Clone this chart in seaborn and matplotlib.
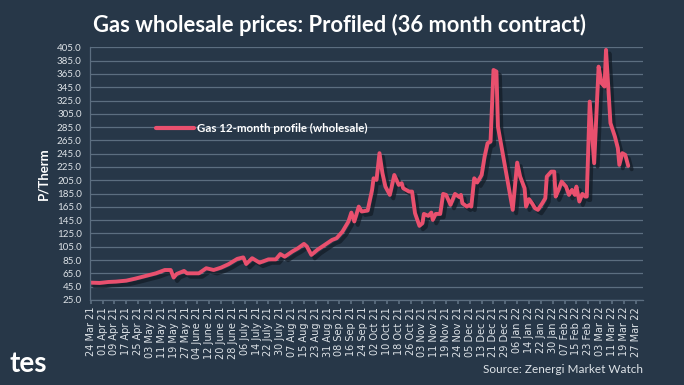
import pandas as pd
import matplotlib
matplotlib.use("Agg")
import matplotlib.pyplot as plt
import matplotlib.patheffects as pe
import seaborn as sns

# days since 24 Mar 2021
days = [0, 6, 12, 17, 24, 30, 37, 44, 50, 54, 56, 58, 63, 65, 73, 78, 83, 88,
        93, 99, 103, 105, 109, 114, 120, 125, 128, 131, 136, 140, 144, 146,
        149, 153, 157, 163, 166, 170, 174, 176, 178, 181, 183, 187, 190, 191,
        193, 195, 197, 199, 202, 205, 208, 210, 211, 215, 217, 219, 222, 224,
        225, 228, 230, 231, 233, 236, 238, 240, 243, 246, 249, 250, 251, 254,
        256, 257, 259, 261, 264, 266, 268, 270, 272, 274, 275, 285, 288, 290,
        293, 294, 296, 298, 300, 302, 305, 307, 308, 311, 313, 314, 316, 318,
        321, 323, 325, 327, 328, 330, 332, 334, 335, 337, 340, 343, 345, 347,
        348, 351, 354, 356, 357, 359, 361, 363]
price = [51, 50.5, 52, 52.5, 54, 57, 61, 65, 70, 70, 58.6, 64, 68.6, 65, 65,
         72.7, 70, 73.6, 78.7, 86.8, 89, 79, 87.8, 81, 86, 86, 94, 90, 97.7,
         102.8, 109.3, 105.3, 92.7, 100.3, 106.3, 115.3, 117.8, 127.8, 142.8,
         156.4, 143, 165.4, 158, 159.5, 190.5, 208, 205.6, 245.8, 215.7, 195.5,
         183, 213, 198, 200.6, 193, 188, 188, 155.5, 136.4, 140.4, 154.4,
         151.4, 156.4, 145.4, 154.4, 154.4, 184.5, 183, 168, 184.5, 179.6, 183,
         170.5, 165.4, 168, 165.4, 208, 201.6, 213, 240.7, 260.8, 263.3, 371,
         368.6, 285.8, 160.5, 231.6, 210.6, 193, 165.4, 176.6, 170.5, 163,
         160.5, 170.5, 178, 210.6, 218, 218, 180.5, 190.6, 203, 195.5, 183,
         190.6, 183, 195.5, 173, 184.5, 180.5, 180.5, 323.4, 230.7, 376, 351,
         346, 401.2, 291, 270.8, 253.3, 228.2, 245.8, 243.2, 226.7]

tick_labels = ["24 Mar 21", "01 Apr 21", "09 Apr 21", "17 Apr 21", "25 Apr 21",
               "03 May 21", "11 May 21", "19 May 21", "27 May 21", "04 June 21",
               "12 June 21", "20 June 21", "28 June 21", "06 July 21",
               "14 July 21", "22 July 21", "30 July 21", "07 Aug 21",
               "15 Aug 21", "23 Aug 21", "31 Aug 21", "08 Sep 21", "16 Sep 21",
               "24 Sep 21", "02 Oct 21", "10 Oct 21", "18 Oct 21", "26 Oct 21",
               "03 Nov 21", "11 Nov 21", "19 Nov 21", "24 Nov 21", "05 Dec 21",
               "13 Dec 21", "21 Dec 21", "29 Dec 21", "06 Jan 22", "14 Jan 22",
               "22 Jan 22", "30 Jan 22", "07 Feb 22", "15 Feb 22", "23 Feb 22",
               "03 Mar 22", "11 Mar 22", "19 Mar 22", "27 Mar 22"]

start = pd.Timestamp("2021-03-24")
df = pd.DataFrame({"date": start + pd.to_timedelta(days, unit="D"),
                   "price": price})
tick_dates = pd.date_range(start, periods=len(tick_labels), freq="8D")

bg = "#273748"
grid = "#5c6e80"
txt = "#dde2e7"
red = "#e9506e"

sns.set_theme(style="dark")
plt.rcParams["font.family"] = ["Lato", "DejaVu Sans"]

fig = plt.figure(figsize=(6.84, 3.85), dpi=100, facecolor=bg)
ax = fig.add_axes([0.1316, 0.221, 0.8085, 0.656])
ax.set_facecolor(bg)

sns.lineplot(data=df, x="date", y="price", ax=ax, color=red, linewidth=2.8,
             label="Gas 12-month profile (wholesale)",
             path_effects=[pe.SimpleLineShadow(offset=(2.5, -2.5),
                                               shadow_color="#121b25",
                                               alpha=0.7),
                           pe.Normal()])

ax.set_ylim(25, 405)
ax.set_yticks(range(25, 406, 20))
ax.set_yticklabels([f"{v:.1f}" for v in range(25, 406, 20)],
                   fontsize=7, color=txt)
ax.set_xlim(start - pd.Timedelta(days=0.5), start + pd.Timedelta(days=373))
ax.set_xticks(tick_dates)
ax.set_xticklabels(tick_labels, rotation=90, fontsize=7, color=txt,
                   family="DejaVu Sans")
ax.tick_params(axis="x", length=3, color=grid, pad=2, bottom=True)
ax.tick_params(axis="y", length=0, pad=6)

ax.grid(axis="y", color=grid, linewidth=0.9)
ax.grid(axis="x", visible=False)
for s in ["top", "right"]:
    ax.spines[s].set_visible(False)
for s in ["left", "bottom"]:
    ax.spines[s].set_visible(True)
    ax.spines[s].set_color(grid)
    ax.spines[s].set_linewidth(0.9)

ax.set_xlabel("")
ax.set_ylabel("P/Therm", color="white", fontsize=9.5, fontweight="bold",
              labelpad=5)

leg = ax.legend(loc="center left", bbox_to_anchor=(0.1, 0.68), frameon=False,
                handlelength=3.3, handletextpad=0.3,
                prop={"size": 8.3, "weight": "bold"})
for t in leg.get_texts():
    t.set_color("white")
for h in leg.get_lines():
    h.set_path_effects([pe.Normal()])
    h.set_linewidth(3)

fig.text(0.497, 0.935, "Gas wholesale prices: Profiled (36 month contract)",
         ha="center", va="center", color="white", fontsize=15.8,
         fontweight="bold")
fig.text(0.94, 0.04, "Source: Zenergi Market Watch", ha="right",
         va="center", color=txt, fontsize=8.5)
fig.text(0.014, 0.055, "tes", ha="left", va="center", color="white",
         fontsize=20, fontweight="bold")

fig.savefig("out.png", dpi=100, facecolor=bg)
